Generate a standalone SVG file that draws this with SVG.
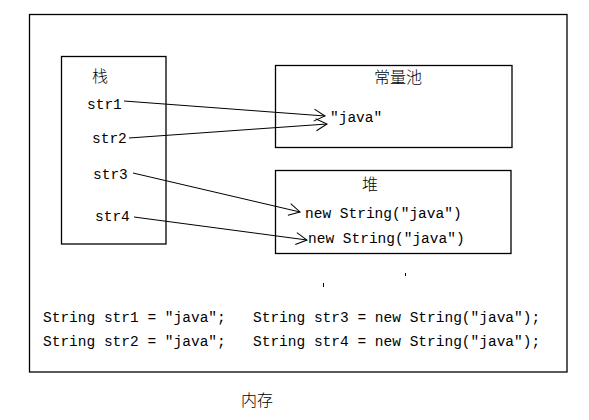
<svg xmlns="http://www.w3.org/2000/svg" width="589" height="420" viewBox="0 0 589 420">
<style>
.box{fill:none;stroke:#000;stroke-width:1.3}
.mono{font-family:"Liberation Mono","DejaVu Sans Mono",monospace;font-size:14.5px;fill:#000}
.cjk{font-family:"Noto Sans CJK SC","Noto Sans",sans-serif;font-size:16px;font-weight:300;fill:#000}
.conn{fill:none;stroke:#000;stroke-width:1}
</style>
<defs>
<marker id="arr" markerUnits="userSpaceOnUse" markerWidth="14" markerHeight="14" viewBox="0 0 14 14" refX="12" refY="7" orient="auto">
<path d="M1,1 L12,7 L1,13" fill="none" stroke="#000" stroke-width="1"/>
</marker>
</defs>
<rect width="589" height="420" fill="#fff"/>
<g id="memory">
<rect class="box" x="29.5" y="14.5" width="537.5" height="357.5"/>
<text class="cjk" x="257" y="406" text-anchor="middle">内存</text>
</g>
<g id="stack">
<rect class="box" x="61.5" y="56.5" width="104.5" height="187.5"/>
<text class="cjk" x="100" y="82" text-anchor="middle">栈</text>
<text class="mono" x="87" y="109">str1</text>
<text class="mono" x="92" y="143">str2</text>
<text class="mono" x="93" y="179">str3</text>
<text class="mono" x="95" y="221">str4</text>
</g>
<g id="pool">
<rect class="box" x="275.5" y="65.5" width="236.5" height="82"/>
<text class="cjk" x="398" y="83" text-anchor="middle">常量池</text>
<text class="mono" x="330" y="122">"java"</text>
</g>
<g id="heap">
<rect class="box" x="275.5" y="170.5" width="235.5" height="83"/>
<text class="cjk" x="370" y="190" text-anchor="middle">堆</text>
<text class="mono" x="305" y="218">new String("java")</text>
<text class="mono" x="308" y="243">new String("java")</text>
</g>
<g id="connectors">
<line class="conn" x1="124" y1="101" x2="325" y2="116" marker-end="url(#arr)"/>
<line class="conn" x1="129" y1="138" x2="327" y2="124" marker-end="url(#arr)"/>
<line class="conn" x1="133" y1="173" x2="300" y2="212" marker-end="url(#arr)"/>
<line class="conn" x1="134" y1="217" x2="307" y2="240" marker-end="url(#arr)"/>
</g>
<g id="code">
<text class="mono" x="43" y="322">String str1 = "java";</text>
<text class="mono" x="253" y="322">String str3 = new String("java");</text>
<text class="mono" x="43" y="346">String str2 = "java";</text>
<text class="mono" x="253" y="346">String str4 = new String("java");</text>
</g>
<g id="ticks">
<rect x="323" y="283" width="1" height="4" fill="#000"/>
<rect x="405" y="273" width="1" height="3" fill="#000"/>
</g>
</svg>
